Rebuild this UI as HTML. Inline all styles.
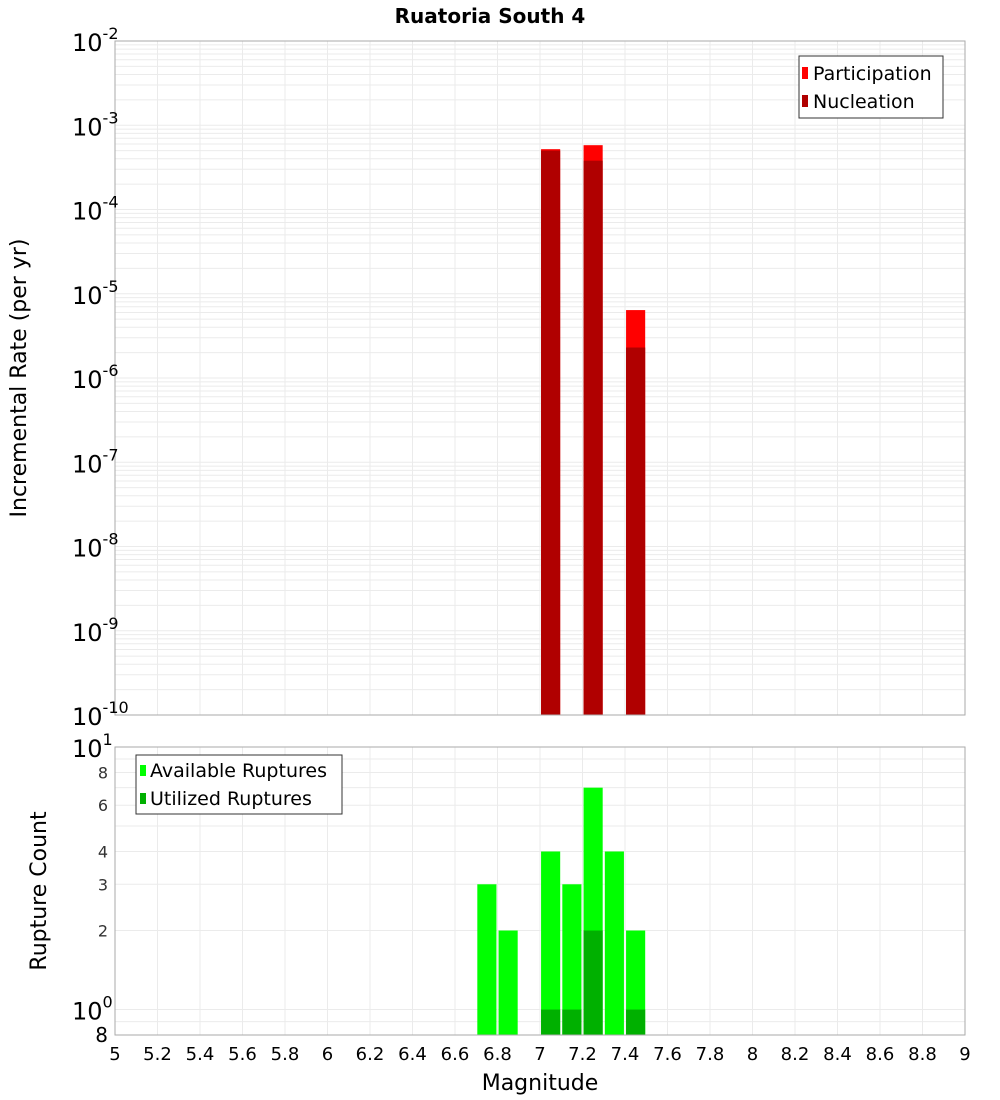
<!DOCTYPE html>
<html><head><meta charset="utf-8"><style>
body{margin:0;background:#fff;}
svg{display:block;font-family:"DejaVu Sans","Liberation Sans",sans-serif;}
</style></head><body>
<svg id="chart" width="1000" height="1100" xmlns="http://www.w3.org/2000/svg">
<text x="490" y="23" text-anchor="middle" font-size="20" font-weight="bold">Ruatoria South 4</text>
<g id="topPanel"></g>
<g id="botPanel"></g>
<text transform="translate(26,378) rotate(-90)" text-anchor="middle" font-size="22">Incremental Rate (per yr)</text>
<text transform="translate(46,891) rotate(-90)" text-anchor="middle" font-size="22">Rupture Count</text>
<text x="540" y="1090" text-anchor="middle" font-size="22">Magnitude</text>
<g>
<rect x="799" y="56" width="144" height="62" fill="#fff" stroke="#333"/>
<rect x="802" y="67" width="6" height="12" fill="#ff0000"/>
<text x="813" y="80" font-size="19">Participation</text>
<rect x="802" y="95" width="6" height="12" fill="#b00000"/>
<text x="813" y="108" font-size="19">Nucleation</text>
</g>
<g>
<rect x="136" y="755" width="206" height="59" fill="#fff" stroke="#333"/>
<rect x="140" y="765" width="6" height="11" fill="#00ff00"/>
<text x="150" y="777" font-size="19">Available Ruptures</text>
<rect x="140" y="793" width="6" height="11" fill="#00b000"/>
<text x="150" y="805" font-size="19">Utilized Ruptures</text>
</g>
</svg>
<script>
const binCenters=[6.75,6.85,7.05,7.15,7.25,7.35,7.45];
const participationMags=[7.05,7.25,7.45];
const participationVals=[5.2e-4,5.8e-4,6.4e-6];
const nucleationMags=[7.05,7.25,7.45];
const nucleationVals=[5.0e-4,3.8e-4,2.3e-6];
const availableVals=[3,2,4,3,7,4,2];
const utilizedMags=[7.05,7.15,7.25,7.45];
const utilizedVals=[1,1,2,1];
const xTicks=[5,5.2,5.4,5.6,5.8,6,6.2,6.4,6.6,6.8,7,7.2,7.4,7.6,7.8,8,8.2,8.4,8.6,8.8,9];
const topExps=[-10,-9,-8,-7,-6,-5,-4,-3,-2];
const botTicks=[2,3,4,6,8];

const NS="http://www.w3.org/2000/svg";
const X0=115,X1=965;
const xs=m=>X0+(m-5)/4*(X1-X0);
const T0=41,T1=715;
const yTop=v=>T1-(Math.log10(v)+10)/8*(T1-T0);
const B0=747,B1=1035,bmin=Math.log10(0.8);
const yBot=v=>B1-(Math.log10(v)-bmin)/(1-bmin)*(B1-B0);
const BW=0.09;
function el(p,tag,a,txt){const e=document.createElementNS(NS,tag);for(const k in a)e.setAttribute(k,a[k]);if(txt!==undefined)e.textContent=txt;p.appendChild(e);return e;}
const topG=document.getElementById('topPanel'),botG=document.getElementById('botPanel');
for(const g of [[topG,T0,T1],[botG,B0,B1]]){
  for(const t of xTicks){const l=el(g[0],'line',{x1:xs(t),x2:xs(t),y1:g[1],y2:g[2],stroke:'#ebebeb'});
  
  }
}
for(let e=-10;e<-2;e++)for(let k=1;k<10;k++){const y=yTop(k*Math.pow(10,e));
  const l=el(topG,'line',{x1:X0,x2:X1,y1:y,y2:y,stroke:'#ebebeb'});
  
  }
for(const v of [0.9,1,2,3,4,5,6,7,8,9]){const y=yBot(v);
  const l=el(botG,'line',{x1:X0,x2:X1,y1:y,y2:y,stroke:'#ebebeb'});
  
  }
participationMags.forEach((m,i)=>{const y=yTop(participationVals[i]);
  const r=el(topG,'rect',{x:xs(m-BW/2),width:xs(BW+5)-X0,y:y,height:T1-y,fill:'#ff0000'});
  
  });
nucleationMags.forEach((m,i)=>{const y=yTop(nucleationVals[i]);
  const r=el(topG,'rect',{x:xs(m-BW/2),width:xs(BW+5)-X0,y:y,height:T1-y,fill:'#b00000'});
  
  });
binCenters.forEach((m,i)=>{const y=yBot(availableVals[i]);
  const r=el(botG,'rect',{x:xs(m-BW/2),width:xs(BW+5)-X0,y:y,height:B1-y,fill:'#00ff00'});
  
  });
utilizedMags.forEach((m,i)=>{const y=yBot(utilizedVals[i]);
  const r=el(botG,'rect',{x:xs(m-BW/2),width:xs(BW+5)-X0,y:y,height:B1-y,fill:'#00b000'});
  
  });
el(topG,'rect',{x:X0,y:T0,width:X1-X0,height:T1-T0,fill:'none',stroke:'#aaa'});
el(botG,'rect',{x:X0,y:B0,width:X1-X0,height:B1-B0,fill:'none',stroke:'#aaa'});
topExps.forEach(e=>{const y=yTop(Math.pow(10,e));
  const t=el(topG,'text',{x:72,y:y+10,'font-size':24});
  
  
  t.textContent='10';el(t,'tspan',{dy:-12,'font-size':16},String(e));});
for(const [v,ex] of [[10,'1'],[1,'0']]){const y=yBot(v);
  const t=el(botG,'text',{x:72,y:y+10,'font-size':24});
  
  
  t.textContent='10';el(t,'tspan',{dy:-12,'font-size':16},ex);}
botTicks.forEach(v=>{const t=el(botG,'text',{x:108,y:yBot(v)+6,'font-size':16,'text-anchor':'end',fill:'#333'},String(v));
  
  });
{const t=el(botG,'text',{x:108,y:B1+7,'font-size':20,'text-anchor':'end'},'8');
 
 }
xTicks.forEach(v=>{const t=el(botG,'text',{x:xs(v),y:1060,'font-size':18,'text-anchor':'middle'},String(v));
  
  });
</script>
</body></html>
